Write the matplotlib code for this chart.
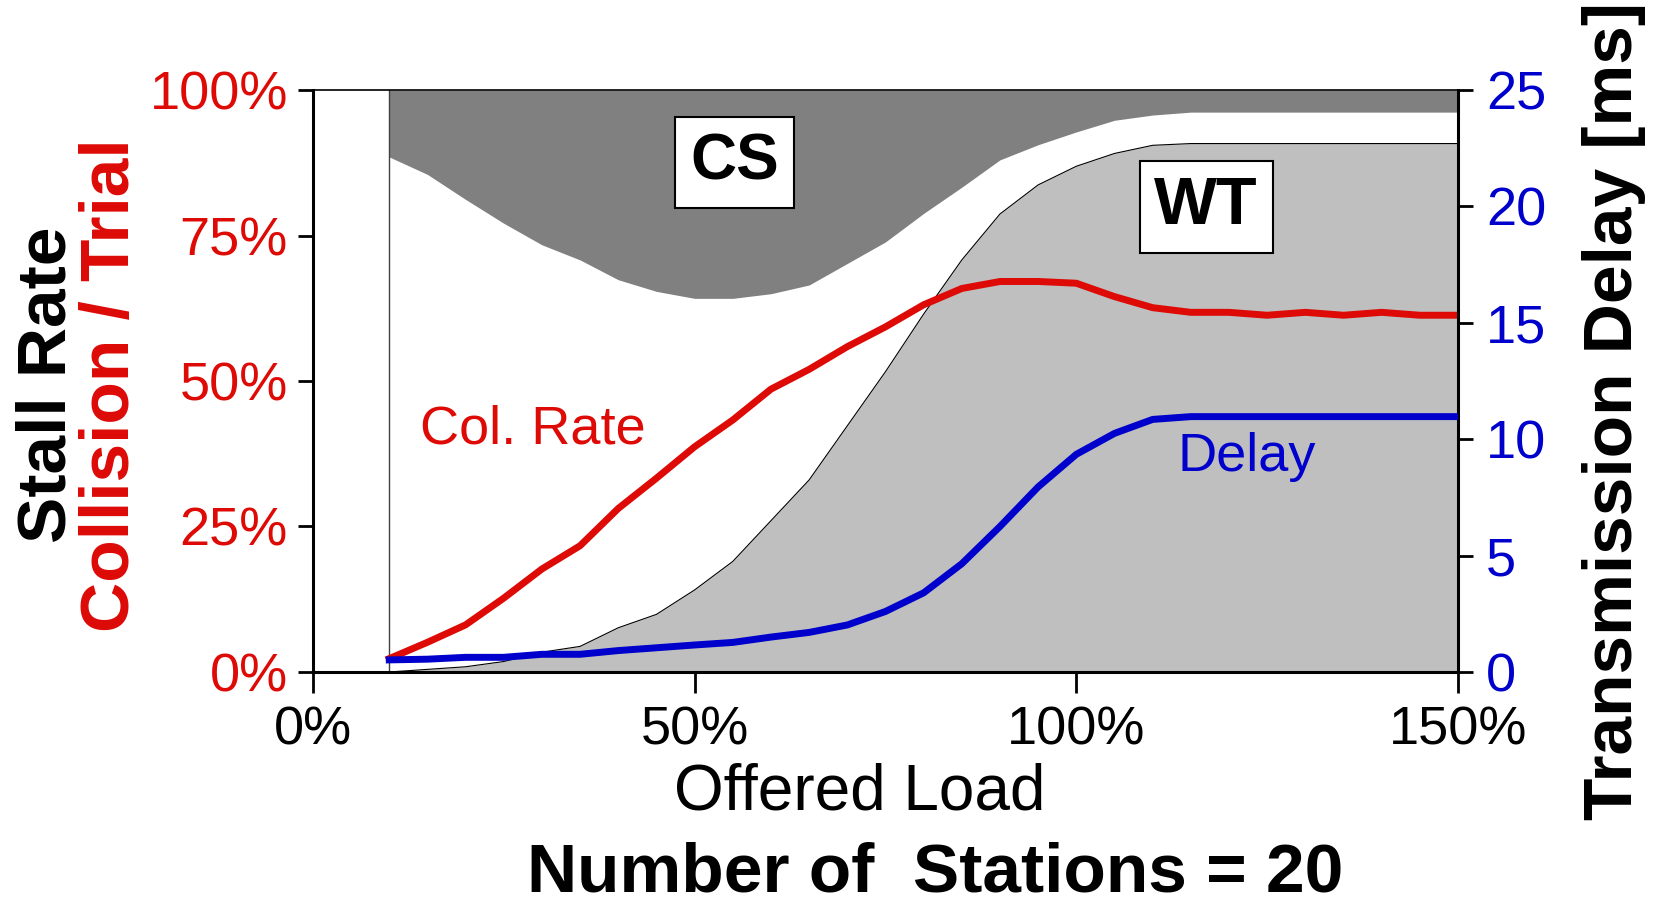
import matplotlib
matplotlib.use("Agg")
import matplotlib.pyplot as plt

plt.rcParams['font.family'] = ['Liberation Sans', 'DejaVu Sans']

# offered load [%]
load = [10, 15, 20, 25, 30, 35, 40, 45, 50, 55, 60, 65, 70, 75, 80,
        85, 90, 95, 100, 105, 110, 115, 120, 125, 130, 135, 140, 145, 150]

# collision / trial [%]
col_rate = [2.3, 5.1, 8.1, 12.7, 17.7, 21.7, 28.1, 33.3, 38.7, 43.3, 48.6, 52.0, 55.9, 59.3, 63.1,
            65.9, 67.1, 67.1, 66.8, 64.5, 62.6, 61.8, 61.8, 61.3, 61.8, 61.3, 61.8, 61.3, 61.3]

# lower edge of the CS (carrier sense) stall band [%]
cs_bottom = [88.5, 85.5, 81.2, 77.1, 73.4, 70.8, 67.4, 65.4, 64.2, 64.2, 65.0, 66.5, 70.2, 73.9, 78.8,
             83.3, 88.0, 90.6, 92.8, 94.8, 95.7, 96.2, 96.2, 96.2, 96.2, 96.2, 96.2, 96.2, 96.2]

# upper edge of the WT (wait) stall band [%]
wt_top = [0.0, 0.45, 0.9, 1.8, 3.4, 4.4, 7.6, 9.9, 14.1, 19.0, 26.0, 33.0, 42.3, 51.6, 61.5,
          70.8, 78.7, 83.7, 86.9, 89.1, 90.5, 90.8, 90.8, 90.8, 90.8, 90.8, 90.8, 90.8, 90.8]

# transmission delay [ms]
delay = [0.52, 0.55, 0.63, 0.63, 0.76, 0.76, 0.92, 1.04, 1.16, 1.27, 1.5, 1.7, 2.02, 2.6, 3.4,
         4.65, 6.25, 7.95, 9.35, 10.25, 10.85, 10.97, 10.97, 10.97, 10.97, 10.97, 10.97, 10.97, 10.97]

left_ticks = [0, 25, 50, 75, 100]
right_ticks = [0, 5, 10, 15, 20, 25]
x_ticks = [0, 50, 100, 150]

RED = '#dd0a06'
BLUE = '#0000cc'

fig = plt.figure(figsize=(16.54, 9.02), dpi=100)
ax = fig.add_axes([0.1892, 0.2550, 0.6923, 0.6452])

# stall bands
ax.fill_between(load, cs_bottom, 100, color='#808080', lw=0, zorder=1)
ax.fill_between(load, 0, wt_top, color='#bfbfbf', lw=0, zorder=1)
ax.plot(load, wt_top, color='black', lw=0.8, zorder=2)
ax.plot([load[0], load[0]], [0, 100], color='#404040', lw=1.0, zorder=2)

ax.plot(load, col_rate, color=RED, lw=5, zorder=4, solid_joinstyle='round')

ax.set_xlim(0, 150)
ax.set_ylim(0, 100)
ax.set_xticks(x_ticks)
ax.set_xticklabels([f'{t}%' for t in x_ticks])
ax.set_yticks(left_ticks)
ax.set_yticklabels([f'{t}%' for t in left_ticks])
ax.tick_params(axis='y', colors=RED, labelsize=39, length=11, width=2, pad=7)
ax.tick_params(axis='y', color='black')
ax.tick_params(axis='x', labelsize=39, length=15, width=2, pad=9, colors='black')
for s in ['left', 'bottom']:
    ax.spines[s].set_linewidth(2.2)
ax.spines['top'].set_linewidth(1.2)
ax.spines['right'].set_visible(False)

ax.text(55.2, 87.6, 'CS', fontsize=46, fontweight='bold', ha='center', va='center', zorder=6,
        bbox=dict(boxstyle='square,pad=0.24', fc='white', ec='black', lw=1.5))
ax.text(117.0, 79.9, 'WT', fontsize=48, fontweight='bold', ha='center', va='center', zorder=6,
        bbox=dict(boxstyle='square,pad=0.22', fc='white', ec='black', lw=1.5))
ax.text(14.0, 41.6, 'Col. Rate', fontsize=39, color=RED, ha='left', va='center', zorder=6)

ax2 = ax.twinx()
ax2.plot(load, delay, color=BLUE, lw=5, zorder=4, solid_joinstyle='round')
ax2.set_ylim(0, 25)
ax2.set_yticks(right_ticks)
ax2.tick_params(axis='y', colors=BLUE, labelsize=39, length=11, width=2, pad=9)
ax2.tick_params(axis='y', color='black')
ax2.spines['right'].set_linewidth(2.2)
for s in ['left', 'bottom', 'top']:
    ax2.spines[s].set_visible(False)
ax2.text(113.3, 36.9 / 4, 'Delay', fontsize=39, color=BLUE, ha='left', va='center')

fig.text(47 / 1654, 1 - 385 / 902, 'Stall Rate', fontsize=50, fontweight='bold',
         rotation=90, ha='center', va='center')
fig.text(111 / 1654, 1 - 385 / 902, 'Collision / Trial', fontsize=50, fontweight='bold',
         color=RED, rotation=90, ha='center', va='center')
fig.text(1614 / 1654, 1 - 411 / 902, 'Transmission Delay [ms]', fontsize=50, fontweight='bold',
         rotation=90, ha='center', va='center')
fig.text(860 / 1654, 1 - 793 / 902, 'Offered Load', fontsize=46, ha='center', va='center')
fig.text(935 / 1654, 1 - 873 / 902, 'Number of  Stations = 20', fontsize=50, fontweight='bold',
         ha='center', va='center')

fig.savefig('out.png', dpi=100)
